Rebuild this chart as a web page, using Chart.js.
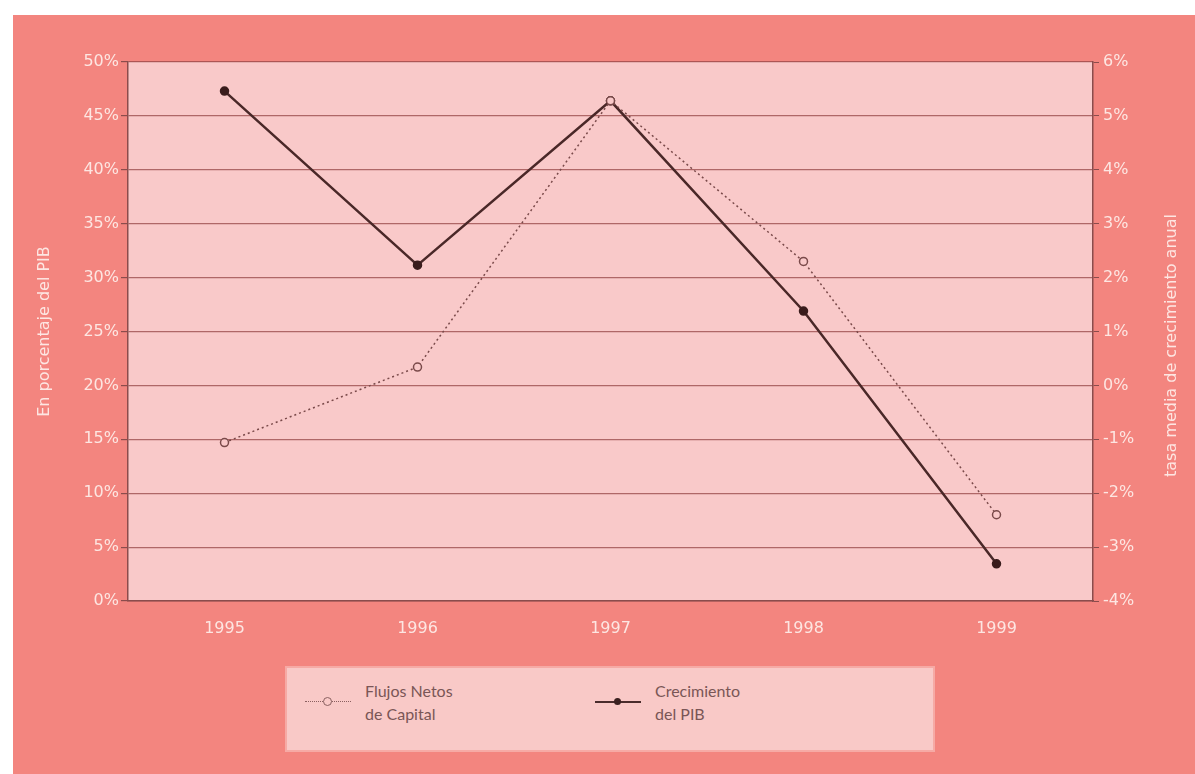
<!DOCTYPE html>
<html>
<head>
<meta charset="utf-8">
<script src="https://cdn.jsdelivr.net/npm/chart.js@4.4.1/dist/chart.umd.min.js"></script>
<style>
  body { margin: 0; background: #ffffff; font-family: Lato, "DejaVu Sans", sans-serif; }
  #wrap { position: relative; width: 1195px; height: 774px; overflow: hidden; }
  #chart { position: absolute; left: 0; top: 0; }
  .legend {
    position: absolute; left: 285px; top: 666px; width: 650px; height: 86px;
    background: #f9c9c7; border: 2px solid #f6aaa5; box-sizing: border-box;
    color: #7a5656; font-size: 16px; line-height: 23px;
  }
  .item { position: absolute; top: 11px; display: flex; align-items: center; }
  .sample { position: relative; width: 46px; height: 12px; margin-right: 14px; }
  .sample .ln { position: absolute; left: 0; right: 0; top: 5px; }
  .sample .mk { position: absolute; left: 18px; top: 1px; width: 7px; height: 7px; border-radius: 50%; }
</style>
</head>
<body>
<div id="wrap">
  <canvas id="chart" width="1195" height="774"></canvas>
  <div class="legend">
    <div class="item" style="left:18px;">
      <div class="sample">
        <div class="ln" style="border-top:1.5px dotted #8a6060;"></div>
        <div class="mk" style="border:1.5px solid #8a6060; background:#f9c9c7;"></div>
      </div>
      <div>Flujos Netos<br>de Capital</div>
    </div>
    <div class="item" style="left:308px;">
      <div class="sample">
        <div class="ln" style="border-top:2px solid #4a2c2c;"></div>
        <div class="mk" style="background:#3a2020; left:19px; top:2px;"></div>
      </div>
      <div>Crecimiento<br>del PIB</div>
    </div>
  </div>
</div>
<script>
// ── Data ──────────────────────────────────────
const years = ['1995', '1996', '1997', '1998', '1999'];
const flujosNetos = [14.7, 21.7, 46.4, 31.5, 8.0];     // % del PIB (eje izq.)
const crecimientoPIB = [5.46, 2.23, 5.28, 1.38, -3.31]; // tasa media anual (eje der.)

const leftTicks = [0, 50, 5];
const rightTicks = [-4, 6, 1];

// ── Colors ────────────────────────────────────
const PANEL = '#f3857f';
const PLOT = '#f9c9c9';
const GRID = 'rgba(150,70,70,0.75)';
const LABEL = '#fde6e2';
const FONT = '"DejaVu Sans", Lato, sans-serif';

// ── Background + axis titles plugin ───────────
const decor = {
  id: 'decor',
  beforeDraw(chart) {
    const { ctx, chartArea: a } = chart;
    ctx.save();
    ctx.fillStyle = '#ffffff';
    ctx.fillRect(0, 0, chart.width, chart.height);
    ctx.fillStyle = PANEL;
    ctx.fillRect(13, 15, chart.width - 13, chart.height - 15);
    ctx.fillStyle = PLOT;
    ctx.fillRect(a.left, a.top, a.right - a.left, a.bottom - a.top);
    ctx.restore();
  },
  afterDraw(chart) {
    const { ctx, chartArea: a } = chart;
    const cy = (a.top + a.bottom) / 2;
    const title = (text, x, y) => {
      ctx.save();
      ctx.fillStyle = LABEL;
      ctx.font = '16px ' + FONT;
      ctx.textAlign = 'center';
      ctx.textBaseline = 'middle';
      ctx.translate(x, y);
      ctx.rotate(-Math.PI / 2);
      ctx.fillText(text, 0, 0);
      ctx.restore();
    };
    title('En porcentaje del PIB', 45, cy);
    title('tasa media de crecimiento anual', 1172, cy + 14);
  }
};

const tickFont = { family: FONT, size: 16 };

new Chart(document.getElementById('chart'), {
  type: 'line',
  data: {
    labels: years,
    datasets: [
      {
        label: 'Flujos Netos de Capital',
        data: flujosNetos,
        yAxisID: 'y',
        borderColor: '#7a4a4a',
        borderWidth: 1.5,
        borderDash: [2, 3],
        pointRadius: 4,
        pointBorderWidth: 1.5,
        pointBackgroundColor: PLOT,
        pointBorderColor: '#7a4a4a',
        tension: 0
      },
      {
        label: 'Crecimiento del PIB',
        data: crecimientoPIB,
        yAxisID: 'y1',
        borderColor: '#4a2828',
        borderWidth: 2.5,
        pointRadius: 3.5,
        pointBackgroundColor: '#3a1c1c',
        pointBorderColor: '#3a1c1c',
        tension: 0
      }
    ]
  },
  options: {
    responsive: false,
    animation: false,
    layout: { padding: { top: 62, left: 0, right: 0, bottom: 0 } },
    plugins: { legend: { display: false }, tooltip: { enabled: false } },
    scales: {
      x: {
        offset: true,
        grid: { display: false, drawTicks: false },
        border: { display: true, color: '#8a4c4c', width: 1.5 },
        ticks: { color: LABEL, font: tickFont, padding: 18 },
        afterFit(s) { s.height = 173; }
      },
      y: {
        position: 'left',
        min: leftTicks[0], max: leftTicks[1],
        grid: { color: GRID, lineWidth: 1.2, tickLength: 7, tickColor: '#8a4c4c' },
        border: { display: true, color: '#8a4c4c', width: 1.5 },
        ticks: { stepSize: leftTicks[2], color: LABEL, font: tickFont, padding: 2,
                 callback: v => v + '%' },
        afterFit(s) { s.width = 128; }
      },
      y1: {
        position: 'right',
        min: rightTicks[0], max: rightTicks[1],
        grid: { drawOnChartArea: false, tickLength: 6, tickColor: '#8a4c4c' },
        border: { display: true, color: '#8a4c4c', width: 1.5 },
        ticks: { stepSize: rightTicks[2], color: LABEL, font: tickFont, padding: 4,
                 callback: v => v + '%' },
        afterFit(s) { s.width = 102; }
      }
    }
  },
  plugins: [decor]
});
</script>
</body>
</html>
